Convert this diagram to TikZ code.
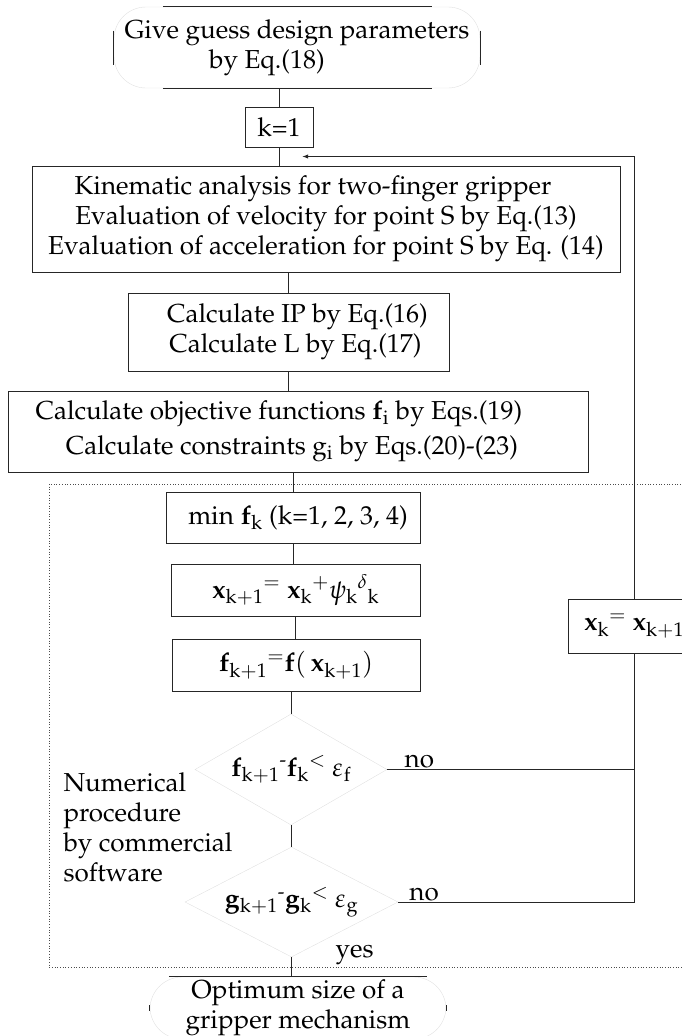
\documentclass[tikz,border=0pt]{standalone}
\usepackage[T1]{fontenc}
\usepackage{mathpazo}
\usepackage{amsmath}
\usetikzlibrary{shapes.geometric, arrows, calc}

\begin{document}
\begin{tikzpicture}[x=1pt, y=-1pt, >=latex,
    every node/.style={font=\fontsize{26}{30}\selectfont},
    box/.style={draw=black!85, line width=0.9pt, rectangle, align=center, inner sep=2pt},
    termbox/.style={draw=black!12, rounded corners=32pt, align=center, inner sep=0pt},
    testbox/.style={draw=black!12, diamond, aspect=1.7, inner sep=-4pt},
    link/.style={line width=0.9pt, draw=black!85},
    frame/.style={dotted, draw=black!70, line width=0.7pt},
    lbl/.style={inner sep=1pt}
]
\useasboundingbox (0,0) rectangle (681,1036);

% start and stop terminals
\node[termbox, minimum width=366pt, minimum height=81pt] (start) at (297,47.5)
    {Give guess design parameters\\by Eq.(18)\hspace*{60pt}};
\draw[link] ([xshift=49pt]start.north west) -- ([xshift=-48pt]start.north east);
\draw[link] ([xshift=49pt]start.south west) -- ([xshift=-48pt]start.south east);
\draw[link] ([yshift=17pt]start.west) -- ([yshift=-17pt]start.west);
\draw[link] ([yshift=17pt]start.east) -- ([yshift=-17pt]start.east);

\node[termbox, minimum width=296pt, minimum height=62pt] (fin) at (298,1008)
    {Optimum size of a\\gripper  mechanism};
\draw[link] ([xshift=19pt]fin.north west) -- ([xshift=-19pt]fin.north east);
\draw[link] ([yshift=3pt]fin.west) -- ([yshift=-3pt]fin.west);
\draw[link] ([yshift=3pt]fin.east) -- ([yshift=-3pt]fin.east);

% main chain
\node[box, minimum width=68pt, minimum height=40pt] (k1) at (279,127) {k=1};
\node[box, minimum width=588pt, minimum height=106pt] (kin) at (326,219)
    {Kinematic analysis  for two-finger  gripper\hspace*{26pt}\\
     Evaluation of velocity for point S by Eq.(13)\hspace*{40pt}\\
     Evaluation of  acceleration for point  S by Eq. (14)};
\node[box, minimum width=321pt, minimum height=78pt] (ip) at (288.5,332)
    {\hspace*{18pt}Calculate  IP by Eq.(16)\\\hspace*{14pt}Calculate L by Eq.(17)};
\node[box, minimum width=580pt, minimum height=81pt] (obj) at (298,431.5)
    {Calculate objective functions  $\mathbf{f}_{\mathrm{i}}$ by  Eqs.(19)\hspace*{38pt}\\[5pt]
     Calculate constraints g$_{\mathrm{i}}$ by Eqs.(20)-(23)\hspace*{12pt}};

% numerical procedure
\draw[frame] (49,484) rectangle (700,967);
\node[box, minimum width=254pt, minimum height=51pt] (minf) at (293,517.5)
    {\hspace*{10pt}min $\mathbf{f}_{\mathrm{k}}$  (k=1, 2, 3, 4)};
\node[box, minimum width=249pt, minimum height=52pt] (xk1) at (295.5,590)
    {$\mathbf{x}_{\mathrm{k+1}}{}^{=}\ \mathbf{x}_{\mathrm{k}}{}^{+}\psi_{\mathrm{k}}{}^{\delta}{}_{\mathrm{k}}$};
\node[box, minimum width=248pt, minimum height=52pt] (fk1) at (296,665)
    {$\mathbf{f}_{\mathrm{k+1}}{}^{=}\mathbf{f}(\,\mathbf{x}_{\mathrm{k+1}})$};
\node[testbox, minimum width=192pt, minimum height=111pt] (d1) at (291,769.5)
    {$\mathbf{f}_{\mathrm{k+1}}{}^{\text{-}}\mathbf{f}_{\mathrm{k}}{}^{<}\ \varepsilon_{\mathrm{f}}$};
\node[testbox, minimum width=213pt, minimum height=110pt] (d2) at (291.5,902)
    {$\mathbf{g}_{\mathrm{k+1}}{}^{\text{-}}\mathbf{g}_{\mathrm{k}}{}^{<}\ \varepsilon_{\mathrm{g}}$};
\node[box, minimum width=132pt, minimum height=54pt] (xk) at (634,626)
    {$\mathbf{x}_{\mathrm{k}}{}^{=}\ \mathbf{x}_{\mathrm{k+1}}$};
\node[anchor=west, align=left] (note) at (60,827)
    {Numerical\\procedure\\by commercial\\software};
\node[lbl, anchor=base west] (yes) at ([xshift=43pt]d2.south) {yes};

% connectors
\draw[link] (start.south -| k1.north) -- (k1.north);
\draw[link] (k1.south) -- (k1.south |- kin.north);
\draw[link] (kin.south -| ip.north) -- (ip.north);
\draw[link] (ip.south) -- (ip.south |- obj.north);
\draw[link] (obj.south -| minf.north) -- (minf.north);
\draw[link] (minf.south) -- (minf.south |- xk1.north);
\draw[link] (xk1.south) -- (xk1.south |- fk1.north);
\draw[link] (fk1.south -| d1.north) -- (d1.north);
\draw[link] (d1.south) -- (d1.south |- d2.north);
\draw[link] (d2.south) -- (d2.south |- fin.north);
\draw[link] (d1.east) -- (d1.east -| xk.south) node[lbl, pos=0.13, above] {no};
\draw[link] (d2.east) -- (d2.east -| xk.south) node[lbl, pos=0.11, above] {no} -- (xk.south);
\draw[link, ->] (xk.north) |- ($(k1.south)!0.5!(kin.north)$);

\end{tikzpicture}
\end{document}
